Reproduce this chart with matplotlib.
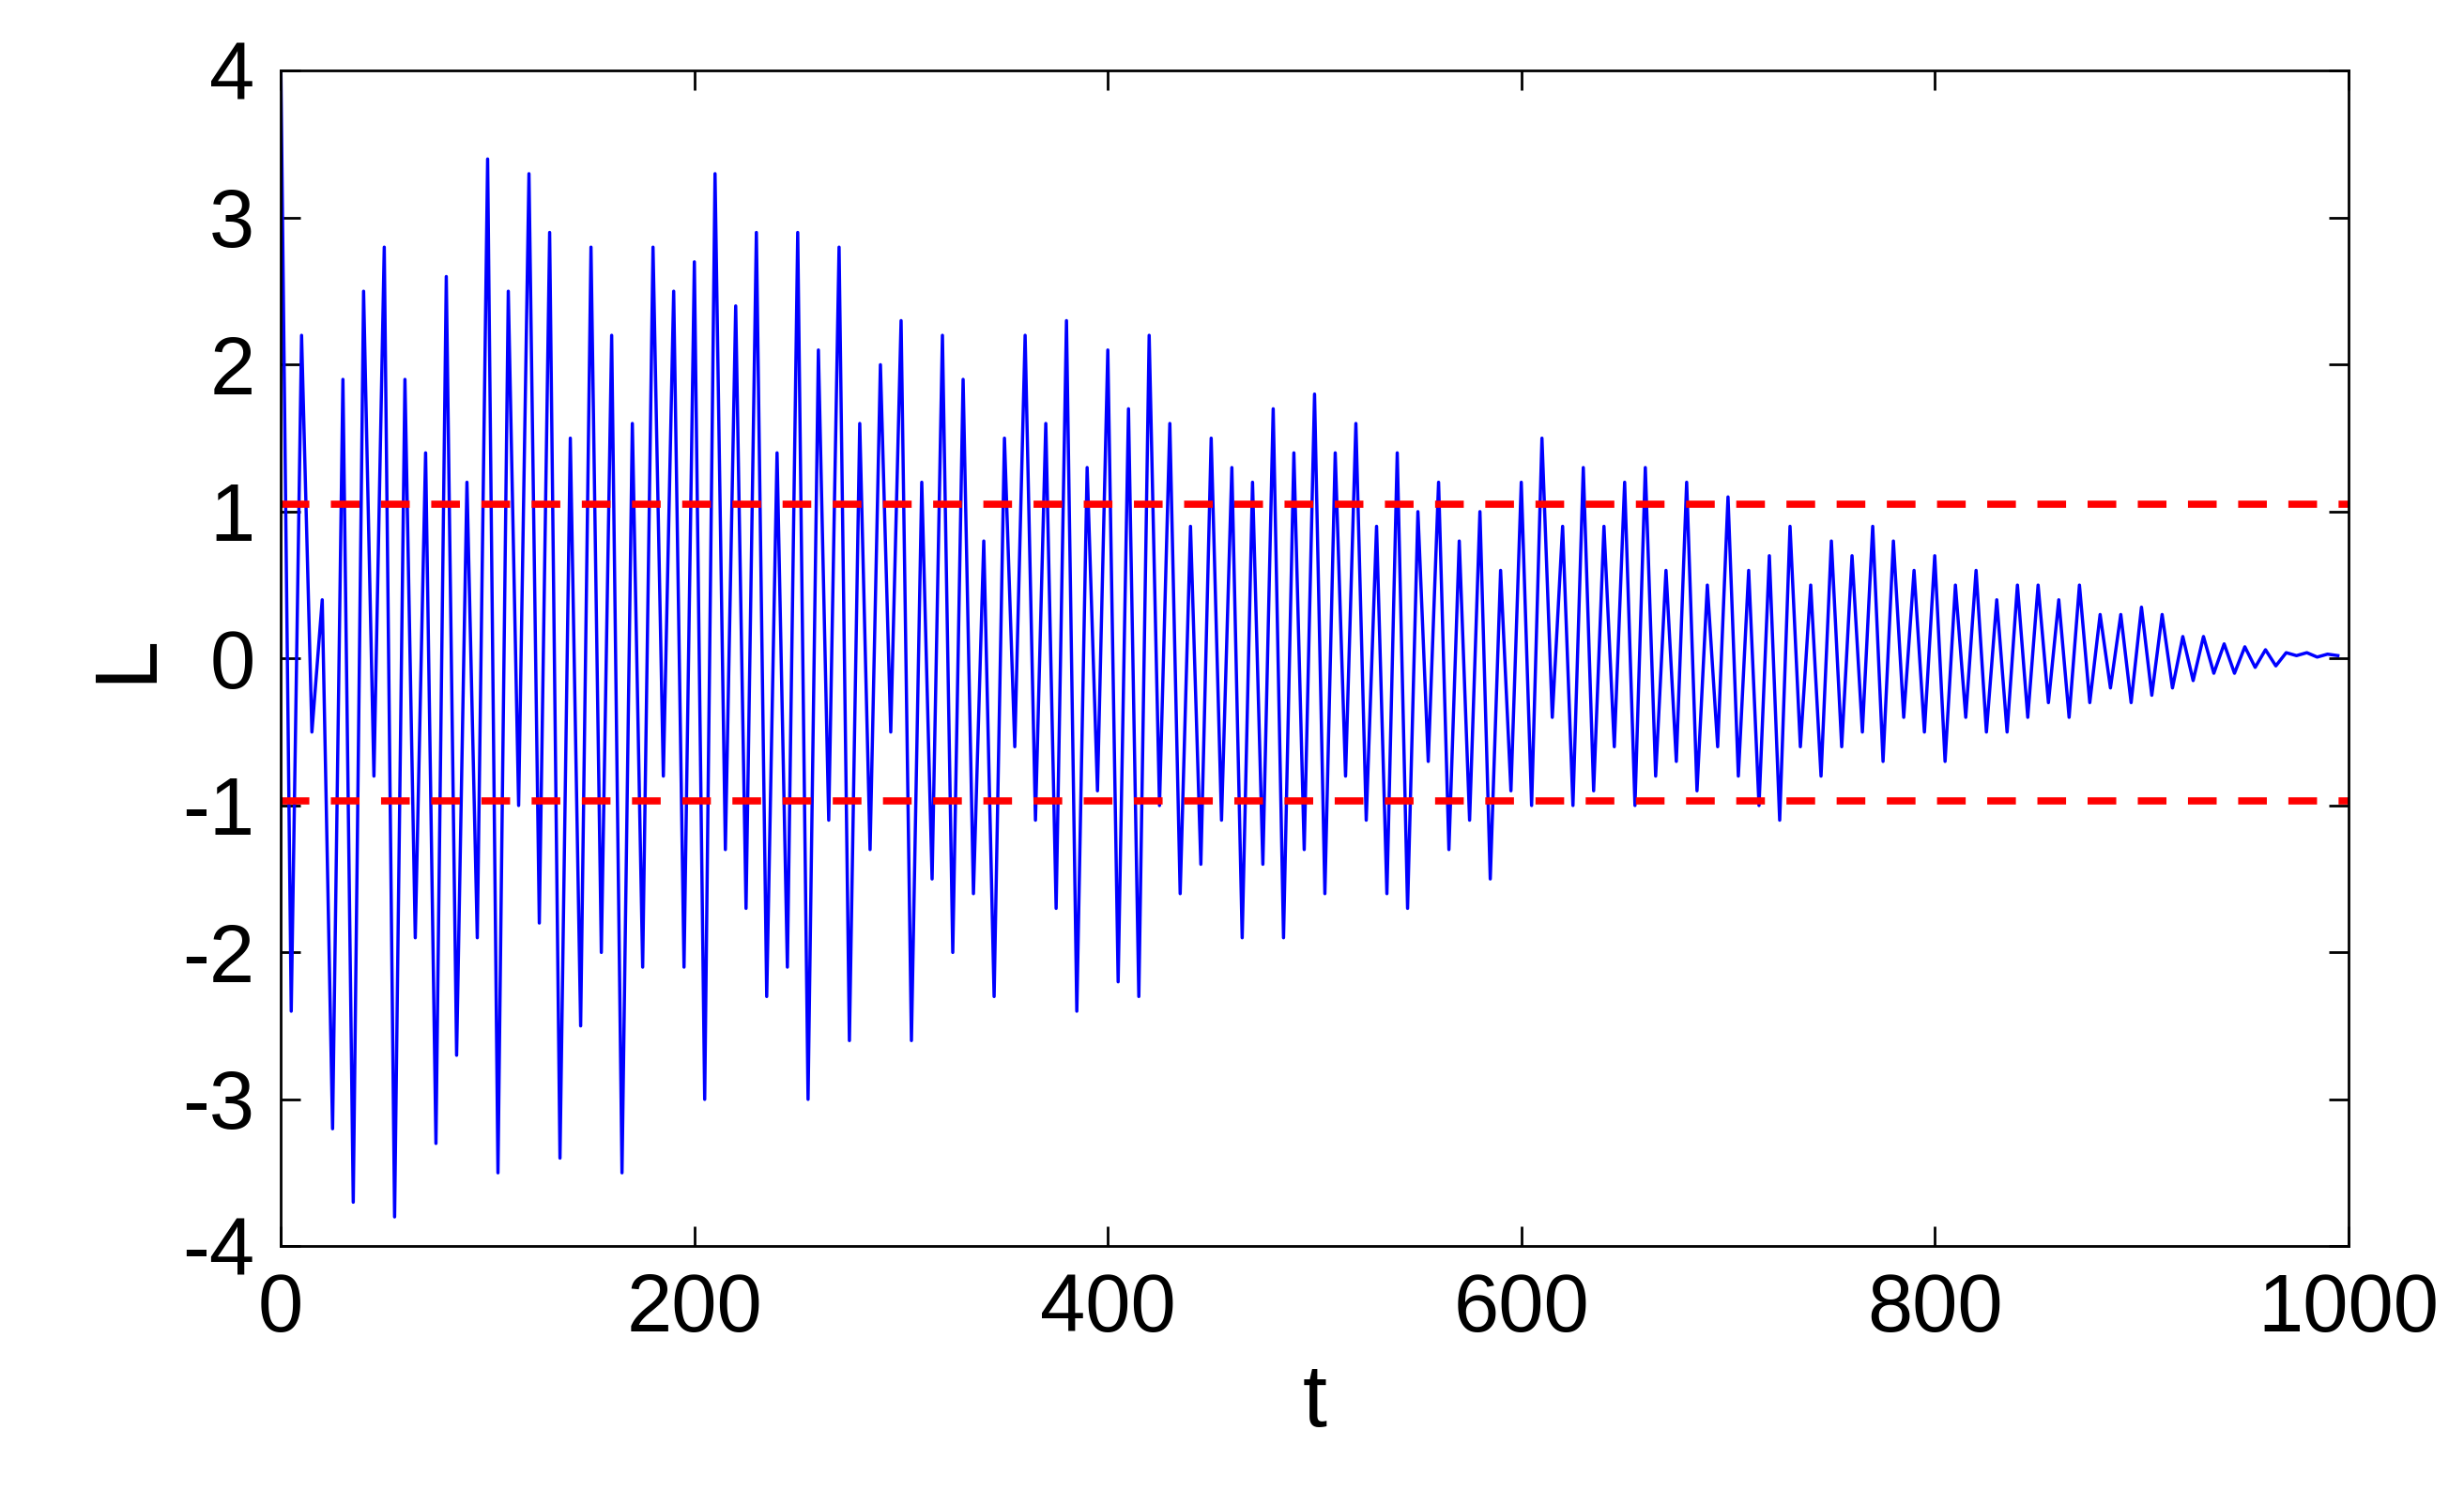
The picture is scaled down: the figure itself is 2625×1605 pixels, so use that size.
import numpy as np
import matplotlib.pyplot as plt

plt.rcParams['font.family'] = ['Liberation Sans', 'DejaVu Sans']
plt.rcParams['axes.unicode_minus'] = False

# signal, one value every 5 steps of t
L_values = [
    4.0, -2.4, 2.2, -0.5, 0.4, -3.2, 1.9, -3.7, 2.5, -0.8, 2.8, -3.8, 1.9, -1.9, 1.4, -3.3, 2.6, -2.7, 1.2, -1.9,
    3.4, -3.5, 2.5, -1.0, 3.3, -1.8, 2.9, -3.4, 1.5, -2.5, 2.8, -2.0, 2.2, -3.5, 1.6, -2.1, 2.8, -0.8, 2.5, -2.1,
    2.7, -3.0, 3.3, -1.3, 2.4, -1.7, 2.9, -2.3, 1.4, -2.1, 2.9, -3.0, 2.1, -1.1, 2.8, -2.6, 1.6, -1.3, 2.0, -0.5,
    2.3, -2.6, 1.2, -1.5, 2.2, -2.0, 1.9, -1.6, 0.8, -2.3, 1.5, -0.6, 2.2, -1.1, 1.6, -1.7, 2.3, -2.4, 1.3, -0.9,
    2.1, -2.2, 1.7, -2.3, 2.2, -1.0, 1.6, -1.6, 0.9, -1.4, 1.5, -1.1, 1.3, -1.9, 1.2, -1.4, 1.7, -1.9, 1.4, -1.3,
    1.8, -1.6, 1.4, -0.8, 1.6, -1.1, 0.9, -1.6, 1.4, -1.7, 1.0, -0.7, 1.2, -1.3, 0.8, -1.1, 1.0, -1.5, 0.6, -0.9,
    1.2, -1.0, 1.5, -0.4, 0.9, -1.0, 1.3, -0.9, 0.9, -0.6, 1.2, -1.0, 1.3, -0.8, 0.6, -0.7, 1.2, -0.9, 0.5, -0.6,
    1.1, -0.8, 0.6, -1.0, 0.7, -1.1, 0.9, -0.6, 0.5, -0.8, 0.8, -0.6, 0.7, -0.5, 0.9, -0.7, 0.8, -0.4, 0.6, -0.5,
    0.7, -0.7, 0.5, -0.4, 0.6, -0.5, 0.4, -0.5, 0.5, -0.4, 0.5, -0.3, 0.4, -0.4, 0.5, -0.3, 0.3, -0.2, 0.3, -0.3,
    0.35, -0.25, 0.3, -0.2, 0.15, -0.15, 0.15, -0.1, 0.1, -0.1, 0.08, -0.06, 0.06, -0.05, 0.04, 0.02, 0.04, 0.01, 0.03, 0.02,
]
t = np.arange(len(L_values)) * 5
upper_limit = 1.05
lower_limit = -0.97

fig = plt.figure(figsize=(10.5, 6.42), dpi=250)
ax = fig.add_axes([0.114, 0.173, 0.839, 0.78])
ax.plot(t, L_values, color='blue', lw=1.0)
ax.axhline(upper_limit, color='red', ls='--', lw=2.2, dashes=(4, 3))
ax.axhline(lower_limit, color='red', ls='--', lw=2.2, dashes=(4, 3))

ax.set_xlim(0, 1000)
ax.set_ylim(-4, 4)
ax.set_xticks(range(0, 1001, 200))
ax.set_yticks(range(-4, 5))
ax.tick_params(direction='in', labelsize=25, length=6, top=True, right=True, pad=8)
ax.set_xlabel('t', fontsize=27)
ax.set_ylabel('L', fontsize=27)

fig.savefig('out.png')
